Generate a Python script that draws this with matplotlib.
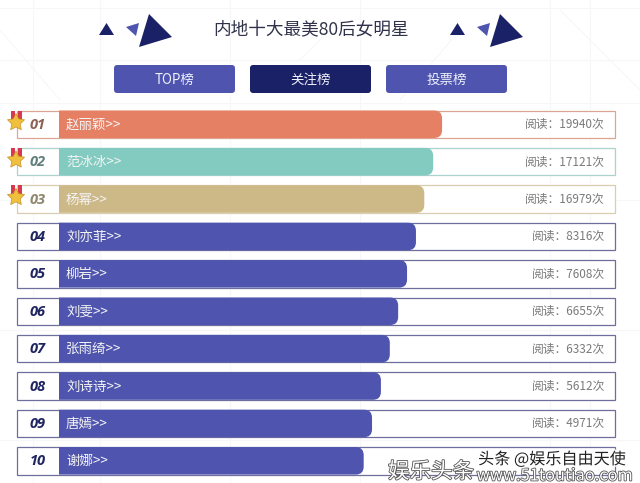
import matplotlib
matplotlib.use("Agg")
import matplotlib.pyplot as plt
import matplotlib.patheffects as pe
from matplotlib.patches import FancyBboxPatch, PathPatch, Polygon, Rectangle
from matplotlib.path import Path
import numpy as np

plt.rcParams['font.family'] = ['Noto Sans CJK SC', 'DejaVu Sans']

title = "内地十大最美80后女明星"
tabs = ["TOP榜", "关注榜", "投票榜"]
ranks = ["01", "02", "03", "04", "05", "06", "07", "08", "09", "10"]
names = ["赵丽颖", "范冰冰", "杨幂", "刘亦菲", "柳岩", "刘雯", "张雨绮", "刘诗诗", "唐嫣", "谢娜"]
reads = [19940, 17121, 16979, 8316, 7608, 6655, 6332, 5612, 4971, None]
# filled share of each row's track, in percent (not proportional to reads in the original)
fill_pct = [68.9, 67.3, 65.7, 64.2, 62.6, 61.0, 59.5, 57.9, 56.3, 54.8]

NAVY = "#1b2167"
INDIGO = "#4f55ae"
bar_colors = ["#e68065", "#83cbc0", "#cdb887"] + [INDIGO] * 7
edge_colors = ["#dda594", "#a9d3cc", "#d9cdb0"] + ["#6c6e9c"] * 7
rank_colors = ["#8f5f55", "#5f7f7c", "#8f866e"] + ["#1f2560"] * 7

fig = plt.figure(figsize=(6.4, 4.83), dpi=100)
ax = fig.add_axes([0, 0, 1, 1])
ax.set_xlim(0, 640)
ax.set_ylim(483, 0)
ax.axis("off")

# faint background grid
for x in [33, 100, 230, 360, 550, 590]:
    ax.axvline(x, color="#f7f7f9", lw=0.8, zorder=0)
for y in [8, 60, 103, 200, 330, 440]:
    ax.axhline(y, color="#f7f7f9", lw=0.8, zorder=0)
for x0, y0, x1, y1 in [(0, 30, 60, 100), (300, 60, 340, 20), (560, 10, 640, 90), (400, 100, 460, 30)]:
    ax.plot([x0, x1], [y0, y1], color="#f7f7f9", lw=0.8, zorder=0)

# header triangles
for dx in [0, 351]:
    ax.add_patch(Polygon([(99 + dx, 35), (114 + dx, 35), (106.5 + dx, 23)], color=NAVY, lw=0))
    ax.add_patch(Polygon([(126 + dx, 27), (139 + dx, 23), (136 + dx, 36)], color=INDIGO, lw=0))
    ax.add_patch(Polygon([(149 + dx, 14), (172 + dx, 37), (139 + dx, 47)], color=NAVY, lw=0))

ax.text(311, 29, title, ha="center", va="center", fontsize=12.7, color="#30324a")

# tab buttons
tab_x = [114, 250, 386]
for i, tab in enumerate(tabs):
    ax.add_patch(FancyBboxPatch((tab_x[i] + 2, 67), 117, 24, boxstyle="round,pad=2,rounding_size=3",
                                fc=NAVY if i == 1 else INDIGO, ec="none"))
    ax.text(tab_x[i] + 60.5, 80, tab, ha="center", va="center", fontsize=9.7, color="#eef0fa")


def right_round_bar(x0, x1, y0, y1, r):
    verts = [(x0, y0), (x1 - r, y0), (x1, y0), (x1, y0 + r), (x1, y1 - r), (x1, y1), (x1 - r, y1), (x0, y1), (x0, y0)]
    codes = [Path.MOVETO, Path.LINETO, Path.CURVE3, Path.CURVE3, Path.LINETO, Path.CURVE3, Path.CURVE3, Path.LINETO, Path.CLOSEPOLY]
    return Path(verts, codes)


def star_points(cx, cy, r):
    pts = []
    for k in range(10):
        a = -np.pi / 2 + k * np.pi / 5
        rr = r if k % 2 == 0 else r * 0.5
        pts.append((cx + rr * np.cos(a), cy + rr * np.sin(a)))
    return pts


row_h = 27.5
track_x0, track_x1 = 59, 615
for i in range(len(ranks)):
    top = 110.5 + 37.4 * i
    ax.add_patch(Rectangle((17, top), 598, row_h, fc="white", ec=edge_colors[i], lw=0.9, zorder=2))
    x_end = track_x0 + (track_x1 - track_x0) * fill_pct[i] / 100
    ax.add_patch(PathPatch(right_round_bar(track_x0, x_end, top, top + row_h, 8),
                           fc=bar_colors[i], ec="none", zorder=3))
    ax.text(37.5, top + row_h / 2 + 0.5, ranks[i], ha="center", va="center", fontsize=10.5,
            family="Open Sans", weight="bold", style="italic", color=rank_colors[i], zorder=4)
    ax.text(66, top + row_h / 2 + 0.5, names[i] + ">>", ha="left", va="center", fontsize=9.7,
            color="#f4f4f4", zorder=4)
    if reads[i] is not None:
        ax.text(605, top + row_h / 2 + 0.5, "阅读：%d次" % reads[i], ha="right", va="center", fontsize=8.5,
                color="#7a7a7a", zorder=4)
    if i < 3:
        ax.add_patch(Rectangle((10.5, top), 4, 11, fc="#d8394f", ec="none", zorder=5))
        ax.add_patch(Rectangle((18, top), 4, 11, fc="#d8394f", ec="none", zorder=5))
        ax.add_patch(Polygon(star_points(16, top + 12, 9), fc="#f0c03c", ec="#c9912a", lw=0.5, zorder=6))

# watermarks
outline = [pe.withStroke(linewidth=2, foreground="white")]
ax.text(552, 459.5, "头条 @娱乐自由天使", ha="center", va="center", fontsize=11.6, color="#222222",
        zorder=8, path_effects=outline)
ax.text(431, 472, "娱乐头条", ha="center", va="center", fontsize=15.5, color="white",
        zorder=7, path_effects=[pe.withStroke(linewidth=1.2, foreground="#555555")])
ax.text(555, 476, "www.51toutiao.com", ha="center", va="center", fontsize=11.8, color="white",
        zorder=7, path_effects=[pe.withStroke(linewidth=1.2, foreground="#555555")])

fig.savefig("out.png", dpi=100)
